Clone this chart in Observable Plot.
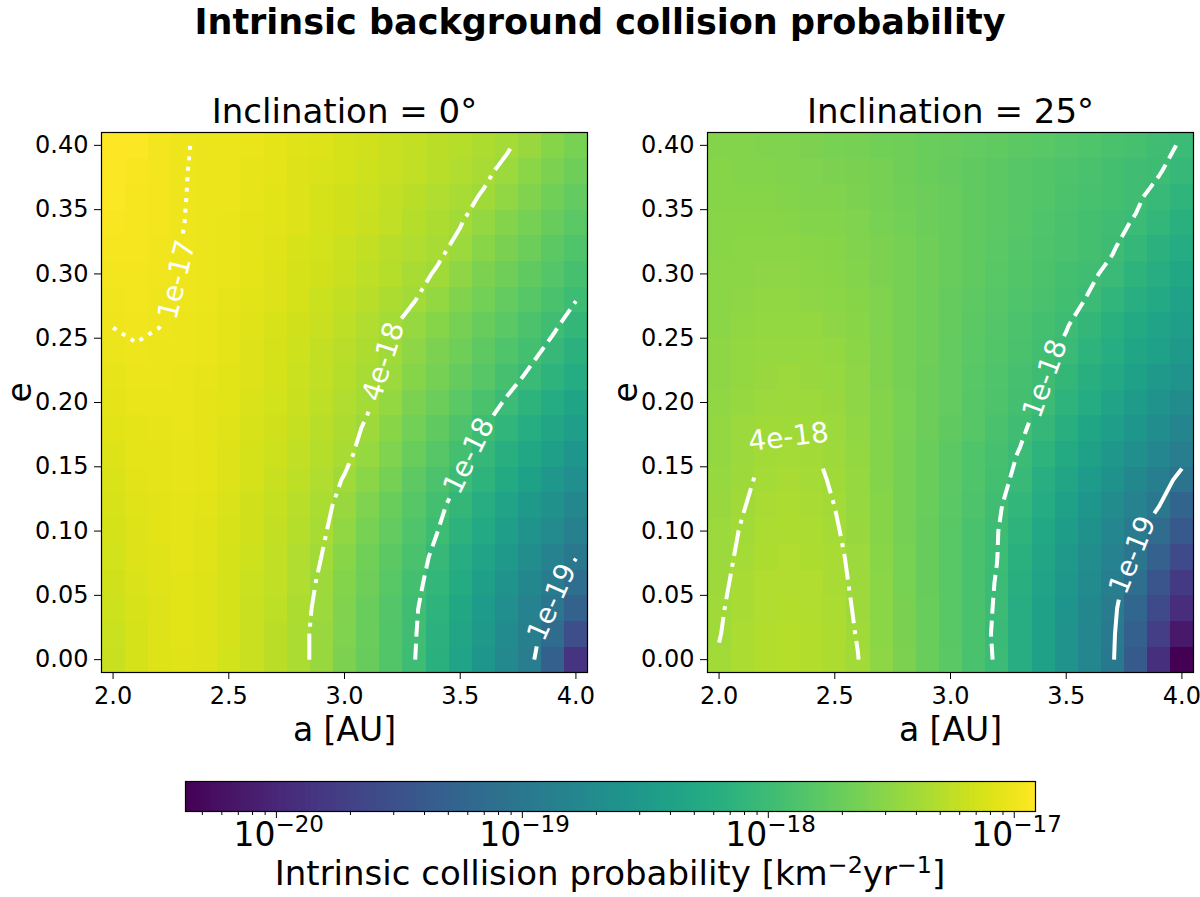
<!DOCTYPE html>
<html>
<head>
<meta charset="utf-8">
<script src="https://cdn.jsdelivr.net/npm/d3@7"></script>
<script src="https://cdn.jsdelivr.net/npm/@observablehq/plot@0.6"></script>
<style>
  html, body { margin: 0; padding: 0; background: #fff; }
  #fig { position: relative; width: 1200px; height: 897px; overflow: hidden; font-family: "DejaVu Sans", sans-serif; background: #fff; }
  #fig > * { position: absolute; }
  .suptitle { left: 0; width: 1200px; text-align: center; font-weight: bold; font-size: 35px; line-height: 35px; top: 5px; white-space: nowrap; }
  .cblabel { left: 185px; width: 850px; text-align: center; font-size: 34px; line-height: 34px; top: 856px; white-space: nowrap; }
  .cblabel sup { font-size: 0.7em; vertical-align: 0.5em; line-height: 0; }
</style>
</head>
<body>
<div id="fig">
  <div class="suptitle">Intrinsic background collision probability</div>
  <div class="cblabel">Intrinsic collision probability [km<sup>−2</sup>yr<sup>−1</sup>]</div>
</div>
<script>
// ---------------- data ----------------
const aValues = [2.0, 2.1, 2.2, 2.3, 2.4, 2.5, 2.6, 2.7, 2.8, 2.9, 3.0, 3.1, 3.2, 3.3, 3.4, 3.5, 3.6, 3.7, 3.8, 3.9, 4.0];
const eValues = [0.00, 0.02, 0.04, 0.06, 0.08, 0.10, 0.12, 0.14, 0.16, 0.18, 0.20, 0.22, 0.24, 0.26, 0.28, 0.30, 0.32, 0.34, 0.36, 0.38, 0.40];
const xTicks = [2.0, 2.5, 3.0, 3.5, 4.0];
const yTicks = [0.00, 0.05, 0.10, 0.15, 0.20, 0.25, 0.30, 0.35, 0.40];
const panelTitles = ["Inclination = 0°", "Inclination = 25°"];
const xLabel = "a [AU]";
const yLabel = "e";
const contourLevels = [1e-19, 1e-18, 4e-18, 1e-17];
const contourNames = ["1e-19", "1e-18", "4e-18", "1e-17"];
const cbMajorTicks = [1e-20, 1e-19, 1e-18, 1e-17];
const cbTickExponents = ["−20", "−19", "−18", "−17"];
const cbDomain = [4.27e-21, 1.22e-17];

// log10 of intrinsic collision probability, rows = e (0.00 .. 0.40), columns = a (2.0 .. 4.0)
const log10P_inc0 = [
  [-17.20,-17.14,-17.10,-17.08,-17.10,-17.15,-17.21,-17.27,-17.35,-17.45,-17.59,-17.72,-17.85,-17.99,-18.17,-18.36,-18.55,-18.74,-18.92,-19.32,-19.85],
  [-17.19,-17.13,-17.095,-17.075,-17.10,-17.14,-17.20,-17.27,-17.35,-17.45,-17.58,-17.71,-17.85,-17.98,-18.16,-18.34,-18.52,-18.71,-18.89,-19.16,-19.55],
  [-17.18,-17.12,-17.09,-17.07,-17.09,-17.14,-17.20,-17.26,-17.34,-17.44,-17.57,-17.70,-17.84,-17.97,-18.13,-18.31,-18.49,-18.66,-18.84,-19.03,-19.30],
  [-17.17,-17.11,-17.085,-17.065,-17.09,-17.13,-17.19,-17.25,-17.33,-17.42,-17.55,-17.68,-17.81,-17.94,-18.09,-18.26,-18.43,-18.60,-18.76,-18.93,-19.13],
  [-17.15,-17.10,-17.08,-17.06,-17.08,-17.13,-17.18,-17.25,-17.32,-17.398,-17.53,-17.66,-17.78,-17.91,-18.05,-18.21,-18.37,-18.52,-18.68,-18.84,-18.99],
  [-17.14,-17.09,-17.07,-17.055,-17.08,-17.12,-17.17,-17.23,-17.30,-17.37,-17.49,-17.62,-17.74,-17.87,-17.995,-18.15,-18.29,-18.44,-18.59,-18.73,-18.88],
  [-17.12,-17.08,-17.065,-17.05,-17.07,-17.11,-17.16,-17.22,-17.28,-17.35,-17.45,-17.58,-17.70,-17.83,-17.95,-18.08,-18.22,-18.36,-18.50,-18.63,-18.77],
  [-17.11,-17.07,-17.06,-17.045,-17.06,-17.10,-17.14,-17.20,-17.26,-17.33,-17.408,-17.52,-17.64,-17.77,-17.89,-18.01,-18.14,-18.27,-18.40,-18.53,-18.66],
  [-17.09,-17.06,-17.05,-17.04,-17.06,-17.09,-17.13,-17.18,-17.24,-17.30,-17.36,-17.46,-17.58,-17.71,-17.83,-17.95,-18.07,-18.19,-18.31,-18.43,-18.55],
  [-17.07,-17.05,-17.04,-17.035,-17.05,-17.08,-17.12,-17.17,-17.22,-17.28,-17.34,-17.42,-17.53,-17.65,-17.76,-17.88,-17.995,-18.11,-18.23,-18.34,-18.45],
  [-17.05,-17.035,-17.03,-17.03,-17.05,-17.07,-17.11,-17.15,-17.20,-17.26,-17.32,-17.38,-17.48,-17.59,-17.69,-17.80,-17.91,-18.02,-18.13,-18.24,-18.35],
  [-17.04,-17.02,-17.02,-17.025,-17.04,-17.07,-17.10,-17.14,-17.19,-17.24,-17.30,-17.36,-17.44,-17.54,-17.64,-17.73,-17.83,-17.93,-18.03,-18.14,-18.25],
  [-17.02,-17.005,-17.01,-17.02,-17.03,-17.06,-17.09,-17.13,-17.18,-17.23,-17.29,-17.34,-17.41,-17.50,-17.59,-17.68,-17.77,-17.86,-17.95,-18.05,-18.16],
  [-16.998,-16.99,-16.999,-17.015,-17.03,-17.05,-17.08,-17.12,-17.17,-17.21,-17.26,-17.32,-17.38,-17.46,-17.54,-17.63,-17.72,-17.80,-17.89,-17.97,-18.08],
  [-16.99,-16.98,-16.995,-17.005,-17.02,-17.04,-17.07,-17.10,-17.14,-17.19,-17.23,-17.28,-17.34,-17.39,-17.48,-17.57,-17.65,-17.74,-17.83,-17.91,-17.995],
  [-16.98,-16.97,-16.99,-17.002,-17.01,-17.03,-17.06,-17.09,-17.13,-17.17,-17.21,-17.26,-17.30,-17.36,-17.41,-17.50,-17.59,-17.67,-17.76,-17.84,-17.93],
  [-16.96,-16.965,-16.985,-17.001,-17.01,-17.03,-17.05,-17.08,-17.12,-17.15,-17.19,-17.23,-17.28,-17.32,-17.37,-17.43,-17.53,-17.61,-17.69,-17.78,-17.86],
  [-16.95,-16.96,-16.98,-16.999,-17.01,-17.03,-17.05,-17.07,-17.10,-17.14,-17.17,-17.21,-17.25,-17.30,-17.34,-17.39,-17.47,-17.55,-17.63,-17.72,-17.80],
  [-16.94,-16.955,-16.975,-16.998,-17.01,-17.02,-17.04,-17.07,-17.10,-17.13,-17.16,-17.19,-17.23,-17.27,-17.32,-17.36,-17.41,-17.49,-17.57,-17.66,-17.74],
  [-16.93,-16.95,-16.97,-16.997,-17.01,-17.02,-17.04,-17.06,-17.09,-17.11,-17.14,-17.18,-17.21,-17.25,-17.29,-17.33,-17.37,-17.43,-17.51,-17.60,-17.68],
  [-16.92,-16.94,-16.97,-16.995,-17.01,-17.02,-17.03,-17.05,-17.08,-17.10,-17.13,-17.16,-17.20,-17.23,-17.27,-17.30,-17.34,-17.38,-17.45,-17.54,-17.62]
];

const log10P_inc25 = [
  [-17.39,-17.35,-17.31,-17.30,-17.31,-17.34,-17.395,-17.50,-17.60,-17.70,-17.80,-17.91,-18.02,-18.21,-18.40,-18.59,-18.78,-18.97,-19.41,-19.89,-20.37],
  [-17.402,-17.355,-17.315,-17.305,-17.315,-17.345,-17.405,-17.51,-17.61,-17.71,-17.81,-17.91,-18.03,-18.21,-18.40,-18.59,-18.78,-18.96,-19.33,-19.74,-20.15],
  [-17.41,-17.36,-17.32,-17.31,-17.32,-17.35,-17.415,-17.51,-17.61,-17.71,-17.81,-17.91,-18.02,-18.21,-18.39,-18.58,-18.76,-18.94,-19.24,-19.59,-19.93],
  [-17.42,-17.37,-17.33,-17.32,-17.33,-17.36,-17.425,-17.52,-17.62,-17.72,-17.81,-17.91,-18.01,-18.19,-18.37,-18.54,-18.72,-18.90,-19.14,-19.46,-19.78],
  [-17.43,-17.38,-17.34,-17.33,-17.34,-17.37,-17.435,-17.53,-17.62,-17.72,-17.81,-17.91,-17.995,-18.17,-18.34,-18.51,-18.68,-18.85,-19.03,-19.31,-19.60],
  [-17.44,-17.39,-17.35,-17.34,-17.35,-17.385,-17.445,-17.54,-17.63,-17.72,-17.81,-17.90,-17.99,-18.14,-18.30,-18.46,-18.62,-18.78,-18.94,-19.16,-19.42],
  [-17.45,-17.405,-17.36,-17.355,-17.36,-17.399,-17.455,-17.54,-17.63,-17.71,-17.80,-17.88,-17.97,-18.10,-18.25,-18.40,-18.55,-18.70,-18.85,-18.99,-19.25],
  [-17.46,-17.42,-17.375,-17.37,-17.375,-17.41,-17.465,-17.55,-17.63,-17.71,-17.79,-17.87,-17.95,-18.04,-18.20,-18.34,-18.48,-18.62,-18.76,-18.90,-19.06],
  [-17.47,-17.43,-17.39,-17.385,-17.39,-17.42,-17.475,-17.55,-17.63,-17.70,-17.78,-17.86,-17.93,-18.01,-18.14,-18.27,-18.40,-18.53,-18.66,-18.79,-18.92],
  [-17.48,-17.44,-17.41,-17.405,-17.41,-17.435,-17.485,-17.55,-17.62,-17.69,-17.76,-17.83,-17.90,-17.97,-18.07,-18.19,-18.32,-18.44,-18.56,-18.68,-18.80],
  [-17.49,-17.455,-17.43,-17.42,-17.43,-17.45,-17.495,-17.56,-17.62,-17.69,-17.75,-17.82,-17.88,-17.95,-18.02,-18.14,-18.25,-18.36,-18.47,-18.59,-18.70],
  [-17.50,-17.47,-17.445,-17.44,-17.45,-17.465,-17.505,-17.57,-17.63,-17.69,-17.75,-17.81,-17.87,-17.93,-17.99,-18.08,-18.19,-18.29,-18.39,-18.50,-18.60],
  [-17.505,-17.48,-17.46,-17.455,-17.465,-17.48,-17.515,-17.57,-17.63,-17.68,-17.74,-17.80,-17.85,-17.91,-17.96,-18.03,-18.13,-18.23,-18.33,-18.42,-18.52],
  [-17.51,-17.49,-17.475,-17.47,-17.48,-17.495,-17.525,-17.58,-17.63,-17.68,-17.73,-17.79,-17.84,-17.89,-17.94,-17.99,-18.08,-18.17,-18.27,-18.36,-18.45],
  [-17.515,-17.50,-17.49,-17.485,-17.50,-17.51,-17.535,-17.58,-17.63,-17.68,-17.73,-17.77,-17.82,-17.87,-17.91,-17.96,-18.01,-18.11,-18.20,-18.29,-18.38],
  [-17.52,-17.51,-17.50,-17.50,-17.515,-17.525,-17.55,-17.59,-17.63,-17.68,-17.72,-17.76,-17.81,-17.85,-17.89,-17.94,-17.98,-18.03,-18.13,-18.22,-18.31],
  [-17.525,-17.52,-17.52,-17.52,-17.53,-17.54,-17.565,-17.60,-17.64,-17.68,-17.72,-17.76,-17.80,-17.84,-17.88,-17.91,-17.95,-17.99,-18.07,-18.16,-18.25],
  [-17.53,-17.53,-17.53,-17.535,-17.55,-17.56,-17.58,-17.62,-17.65,-17.69,-17.72,-17.76,-17.79,-17.83,-17.86,-17.90,-17.94,-17.97,-18.01,-18.10,-18.18],
  [-17.54,-17.54,-17.545,-17.55,-17.565,-17.575,-17.595,-17.63,-17.66,-17.69,-17.72,-17.76,-17.79,-17.82,-17.85,-17.89,-17.92,-17.95,-17.98,-18.04,-18.12],
  [-17.545,-17.55,-17.56,-17.565,-17.58,-17.595,-17.615,-17.64,-17.67,-17.70,-17.73,-17.76,-17.79,-17.82,-17.85,-17.88,-17.91,-17.94,-17.97,-17.99,-18.06],
  [-17.55,-17.56,-17.57,-17.58,-17.60,-17.62,-17.64,-17.66,-17.68,-17.70,-17.72,-17.74,-17.76,-17.78,-17.81,-17.84,-17.87,-17.90,-17.93,-17.97,-18.01]
];

// approximate contour-label spots (a, e)
const labelSpots_inc0 = [
  {level: 1e-17, a: 2.255, e: 0.297},
  {level: 4e-18, a: 3.197, e: 0.230},
  {level: 1e-18, a: 3.550, e: 0.158},
  {level: 1e-19, a: 3.885, e: 0.046}
];
const labelSpots_inc25 = [
  {level: 4e-18, a: 2.300, e: 0.177, tilt: -7},
  {level: 1e-18, a: 3.420, e: 0.218},
  {level: 1e-19, a: 3.800, e: 0.080}
];

// ---------------- layout / style ----------------
const FONT = "DejaVu Sans";
const X_DOMAIN = [1.95, 4.05], Y_DOMAIN = [-0.01, 0.41];
const PANEL_H = 760, M_TOP = 132, M_BOTTOM = 88;
const LABEL_FONT = 28;
const dashByName = {"1e-19": null, "1e-18": "16,7", "4e-18": "26,7,4,7", "1e-17": "4,6.5"};
const colorOpts = {type: "log", scheme: "viridis", domain: cbDomain};

const fig = document.getElementById("fig");
function place(el, left, top) {
  el.style.position = "absolute";
  el.style.left = left + "px";
  el.style.top = top + "px";
  fig.appendChild(el);
}

const measureCtx = document.createElement("canvas").getContext("2d");
measureCtx.font = LABEL_FONT + "px '" + FONT + "'";

// marching squares on cell-centre grid -> polylines in data coordinates
function marchingSquares(grid, xs, ys, t) {
  const nx = xs.length, ny = ys.length;
  const pts = new Map(), adj = new Map();
  const node = (type, i, j) => {
    const k = type + i + "_" + j;
    if (!pts.has(k)) {
      if (type === "h") {
        const v0 = grid[j][i], v1 = grid[j][i + 1], f = (t - v0) / (v1 - v0);
        pts.set(k, [xs[i] + f * (xs[i + 1] - xs[i]), ys[j]]);
      } else {
        const v0 = grid[j][i], v1 = grid[j + 1][i], f = (t - v0) / (v1 - v0);
        pts.set(k, [xs[i], ys[j] + f * (ys[j + 1] - ys[j])]);
      }
      adj.set(k, []);
    }
    return k;
  };
  const link = (p, q) => { adj.get(p).push(q); adj.get(q).push(p); };
  for (let j = 0; j < ny - 1; j++) for (let i = 0; i < nx - 1; i++) {
    const b00 = grid[j][i] >= t, b10 = grid[j][i + 1] >= t, b01 = grid[j + 1][i] >= t, b11 = grid[j + 1][i + 1] >= t;
    const bottom = b00 !== b10 ? node("h", i, j) : null;
    const right = b10 !== b11 ? node("v", i + 1, j) : null;
    const top = b01 !== b11 ? node("h", i, j + 1) : null;
    const left = b00 !== b01 ? node("v", i, j) : null;
    const e = [bottom, right, top, left].filter(Boolean);
    if (e.length === 2) link(e[0], e[1]);
    else if (e.length === 4) {
      const c = (grid[j][i] + grid[j][i + 1] + grid[j + 1][i] + grid[j + 1][i + 1]) / 4 >= t;
      if (c === b00) { link(bottom, right); link(top, left); }
      else { link(bottom, left); link(top, right); }
    }
  }
  const seen = new Set(), lines = [];
  const walk = (start) => {
    const out = [start]; seen.add(start);
    let prev = null, cur = start;
    for (;;) {
      const next = adj.get(cur).find(n => n !== prev && !seen.has(n));
      if (next === undefined) {
        if (out.length > 2 && adj.get(cur).includes(start)) out.push(start);
        break;
      }
      seen.add(next); out.push(next); prev = cur; cur = next;
    }
    return out.map(k => pts.get(k));
  };
  for (const [k, n] of adj) if (n.length === 1 && !seen.has(k)) lines.push(walk(k));
  for (const k of adj.keys()) if (!seen.has(k)) lines.push(walk(k));
  return lines;
}

function buildPanel(grid, title, spots, geom) {
  const {width, ml, mr} = geom;
  const kx = (width - ml - mr) / (X_DOMAIN[1] - X_DOMAIN[0]);
  const ky = (PANEL_H - M_TOP - M_BOTTOM) / (Y_DOMAIN[1] - Y_DOMAIN[0]);

  const cells = [];
  grid.forEach((row, j) => row.forEach((v, i) => cells.push({a: aValues[i], e: eValues[j], p: Math.pow(10, v)})));

  const lineRows = [], labelRows = [];
  let id = 0;
  contourLevels.forEach((level, li) => {
    const name = contourNames[li];
    const polys = marchingSquares(grid, aValues, eValues, Math.log10(level));
    const dense = polys.map(poly => {
      const out = [];
      for (let k = 0; k < poly.length - 1; k++) {
        const [a0, e0] = poly[k], [a1, e1] = poly[k + 1];
        const n = Math.max(1, Math.ceil(Math.hypot((a1 - a0) * kx, (e1 - e0) * ky)));
        for (let s = 0; s < n; s++) out.push([a0 + (a1 - a0) * s / n, e0 + (e1 - e0) * s / n]);
      }
      out.push(poly[poly.length - 1]);
      return out;
    });
    const centers = [];
    for (const s of spots.filter(s => s.level === level)) {
      let best = null, bd = Infinity;
      dense.forEach((pts, pi) => pts.forEach((p, k) => {
        const d = Math.hypot((p[0] - s.a) * kx, (p[1] - s.e) * ky);
        if (d < bd) { bd = d; best = {pi, k}; }
      }));
      if (!best) continue;
      const pts = dense[best.pi];
      const p = pts[best.k];
      const k0 = Math.max(0, best.k - 12), k1 = Math.min(pts.length - 1, best.k + 12);
      const dx = (pts[k1][0] - pts[k0][0]) * kx, dy = -(pts[k1][1] - pts[k0][1]) * ky;
      let ang = Math.atan2(dy, dx) * 180 / Math.PI;
      if (ang > 90) ang -= 180;
      if (ang < -90) ang += 180;
      if (s.tilt !== undefined) ang = s.tilt;
      const w = measureCtx.measureText(name).width;
      centers.push({a: p[0], e: p[1], r: w / 2 + 6});
      labelRows.push({a: p[0], e: p[1], text: name, rotate: ang});
    }
    dense.forEach(pts => {
      let open = false;
      for (const p of pts) {
        const inGap = centers.some(c => Math.hypot((p[0] - c.a) * kx, (p[1] - c.e) * ky) < c.r);
        if (inGap) { open = false; continue; }
        if (!open) { id++; open = true; }
        lineRows.push({a: p[0], e: p[1], id, name});
      }
    });
  });

  const lineMarks = contourNames.map(name => Plot.line(lineRows.filter(r => r.name === name), {
    x: "a", y: "e", z: "id", stroke: "white", strokeWidth: 4,
    strokeDasharray: dashByName[name] || undefined, strokeLinecap: "butt", strokeLinejoin: "round"
  }));

  return Plot.plot({
    width, height: PANEL_H,
    marginLeft: ml, marginRight: mr, marginTop: M_TOP, marginBottom: M_BOTTOM,
    style: {fontFamily: FONT, background: "transparent", overflow: "visible"},
    x: {domain: X_DOMAIN},
    y: {domain: Y_DOMAIN},
    color: colorOpts,
    marks: [
      Plot.raster(cells, {
        x: "a", y: "e", fill: "p",
        x1: X_DOMAIN[0], x2: X_DOMAIN[1], y1: Y_DOMAIN[0], y2: Y_DOMAIN[1],
        width: aValues.length, height: eValues.length, imageRendering: "pixelated"
      }),
      ...lineMarks,
      Plot.text(labelRows, {x: "a", y: "e", text: "text", rotate: "rotate", fill: "white",
        fontSize: LABEL_FONT, fontFamily: FONT, textAnchor: "middle", lineAnchor: "middle"}),
      Plot.frame({stroke: "black", strokeWidth: 1.2}),
      Plot.axisX(xTicks, {tickSize: 7, tickPadding: 7, tickFormat: d3.format(".1f"), fontSize: 24, fontFamily: FONT, label: null}),
      Plot.axisY(yTicks, {tickSize: 7, tickPadding: 6, tickFormat: d3.format(".2f"), fontSize: 24, fontFamily: FONT, label: null}),
      Plot.text([title], {text: d => d, frameAnchor: "top", dy: -10, lineAnchor: "bottom", fontSize: 34, fontFamily: FONT}),
      Plot.text([xLabel], {text: d => d, frameAnchor: "bottom", dy: 68, lineAnchor: "bottom", fontSize: 33, fontFamily: FONT}),
      Plot.text([yLabel], {text: d => d, frameAnchor: "left", dx: -71, rotate: -90, lineAnchor: "bottom", fontSize: 33, fontFamily: FONT})
    ]
  });
}

const left = buildPanel(log10P_inc0, panelTitles[0], labelSpots_inc0, {width: 600, ml: 101, mr: 13});
place(left, 0, 0);
const right = buildPanel(log10P_inc25, panelTitles[1], labelSpots_inc25, {width: 600, ml: 107, mr: 7});
place(right, 600, 0);

// ---------------- colour bar ----------------
const lo = Math.log10(cbDomain[0]), hi = Math.log10(cbDomain[1]);
const NSTRIP = 425;
const strips = d3.range(NSTRIP).map(k => ({
  x1: Math.pow(10, lo + (hi - lo) * k / NSTRIP),
  x2: Math.pow(10, lo + (hi - lo) * (k + 1) / NSTRIP),
  v: Math.pow(10, lo + (hi - lo) * (k + 0.5) / NSTRIP)
}));
const cbMinorTicks = [-21, -20, -19, -18]
  .flatMap(p => [2, 3, 4, 5, 6, 7, 8, 9].map(m => m * Math.pow(10, p)))
  .filter(v => v >= cbDomain[0] && v <= cbDomain[1]);

const cb = Plot.plot({
  width: 1200, height: 137,
  marginLeft: 185, marginRight: 165, marginTop: 21, marginBottom: 86,
  style: {fontFamily: FONT, background: "transparent", overflow: "visible"},
  x: {type: "log", domain: cbDomain},
  y: {domain: [0, 1], axis: null},
  color: colorOpts,
  marks: [
    Plot.rect(strips, {x1: "x1", x2: "x2", y1: 0, y2: 1, fill: "v", insetRight: -0.6}),
    Plot.frame({stroke: "black", strokeWidth: 1.2}),
    Plot.axisX(cbMinorTicks, {tickSize: 4, tickFormat: () => "", label: null}),
    Plot.axisX(cbMajorTicks, {tickSize: 7, tickFormat: () => "", label: null}),
    Plot.text(cbMajorTicks, {x: d => d, frameAnchor: "bottom", text: () => "10", textAnchor: "end",
      dx: -1, dy: 34, lineAnchor: "bottom", fontSize: 33, fontFamily: FONT}),
    Plot.text(cbMajorTicks, {x: d => d, frameAnchor: "bottom", text: (d, i) => cbTickExponents[i], textAnchor: "start",
      dx: -1, dy: 20, lineAnchor: "bottom", fontSize: 23, fontFamily: FONT})
  ]
});
place(cb, 0, 760);
</script>
</body>
</html>
